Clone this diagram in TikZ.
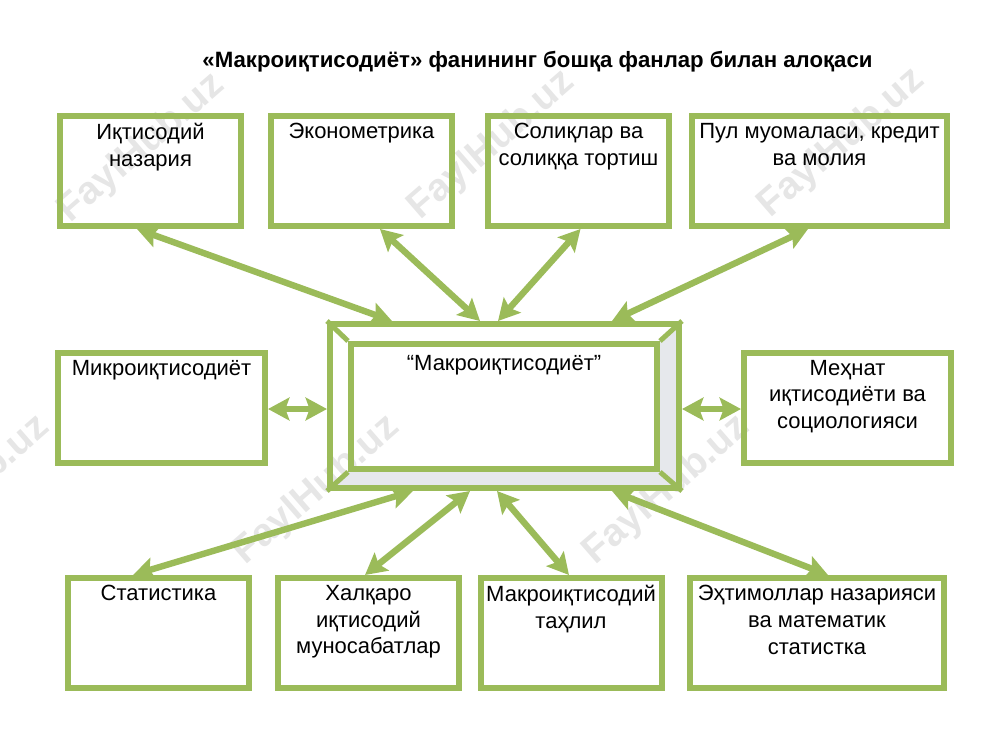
\documentclass[tikz,border=0pt]{standalone}
\usepackage{fontspec}
\setmainfont{Liberation Sans}
\usetikzlibrary{arrows.meta,calc}

\definecolor{boxgreen}{RGB}{155,187,89}
\definecolor{bevelgrey}{RGB}{230,232,236}
\definecolor{markgrey}{RGB}{230,230,230}

\tikzset{
  every picture/.style={line width=0.75pt},
  subjbox/.style={draw=boxgreen,line width=4.5pt,inner sep=0pt,minimum height=82.5pt},
  subjtxt/.style={anchor=north,yshift=-7.5pt,inner sep=0pt,align=center,font=\fontsize{16.5}{20}\selectfont},
  linkarrow/.style={draw=boxgreen,line width=4.8pt,{Stealth[length=16pt,width=17pt,inset=3pt]}-{Stealth[length=16pt,width=17pt,inset=3pt]}},
  bevelline/.style={draw=boxgreen,line width=3.75pt},
  wmark/.style={text=markgrey,rotate=41,inner sep=0pt,font=\fontsize{29}{29}\selectfont\bfseries},
}

\begin{document}
\begin{tikzpicture}[x=0.75pt,y=0.75pt,yscale=-1,xscale=1]
\useasboundingbox (0,0) rectangle (1000,750);
\clip (0,0) rectangle (1000,750);

% Watermark
\node [wmark] (markA) at (142,148) {FaylHub.uz};
\node [wmark] (markB) at (492,145) {FaylHub.uz};
\node [wmark] (markC) at (842,143) {FaylHub.uz};
\node [wmark] (markD) at (-33,490) {FaylHub.uz};
\node [wmark] (markE) at (317,490) {FaylHub.uz};
\node [wmark] (markF) at (667,490) {FaylHub.uz};

%Shape: Bevel faces
\fill [bevelgrey] (679,324) -- (679,488) -- (657,469) -- (657,344) -- cycle;
\fill [bevelgrey] (330,488) -- (679,488) -- (657,469) -- (351,469) -- cycle;

%Shape: Bevel frame
\node [subjbox,minimum width=261.75pt,minimum height=123pt] (mainouter) at (504.5,406) {};
\node [subjbox,minimum width=229.5pt,minimum height=93.75pt] (maininner) at (504,406.5) {};
\draw [bevelline] (mainouter.north west) -- (maininner.north west);
\draw [bevelline] (mainouter.north east) -- (maininner.north east);
\draw [bevelline] (mainouter.south west) -- (maininner.south west);
\draw [bevelline] (mainouter.south east) -- (maininner.south east);

%Shape: Top row
\node [subjbox,minimum width=135.75pt] (nazaria) at (150.5,171) {};
\node [subjbox,minimum width=135.75pt] (ekonom) at (361.5,171) {};
\node [subjbox,minimum width=135.75pt] (soliq) at (578.5,171) {};
\node [subjbox,minimum width=191.25pt] (pul) at (819.5,171) {};

%Shape: Middle row
\node [subjbox,minimum width=155.25pt] (mikro) at (161.5,407.5) {};
\node [subjbox,minimum width=155.25pt] (mehnat) at (847.5,407.5) {};

%Shape: Bottom row
\node [subjbox,minimum width=135.75pt] (statist) at (158.5,633) {};
\node [subjbox,minimum width=135.75pt] (xalqaro) at (368.5,633) {};
\node [subjbox,minimum width=135.75pt] (tahlil) at (571,633) {};
\node [subjbox,minimum width=190.5pt] (extimol) at (817,633) {};

%Straight Lines
\draw [linkarrow] ($(nazaria.south)+(-13.5,0)$) -- ($(mainouter.north)+(-112.5,0)$);
\draw [linkarrow] ($(ekonom.south)+(18.5,0)$) -- ($(mainouter.north)+(-24.5,0)$);
\draw [linkarrow] ($(soliq.south)+(2,0)$) -- ($(mainouter.north)+(-6.5,0)$);
\draw [linkarrow] ($(pul.south)+(-11.5,0)$) -- ($(mainouter.north)+(107.5,0)$);
\draw [linkarrow] ($(mikro.east)+(0,1.5)$) -- ($(mainouter.west)+(0,3)$);
\draw [linkarrow] ($(mainouter.east)+(0,3)$) -- ($(mehnat.west)+(0,1.5)$);
\draw [linkarrow] ($(statist.north)+(-25.5,0)$) -- ($(mainouter.south)+(-91.5,0)$);
\draw [linkarrow] ($(xalqaro.north)+(-3.5,0)$) -- ($(mainouter.south)+(-34.5,0)$);
\draw [linkarrow] ($(tahlil.north)+(-2,0)$) -- ($(mainouter.south)+(-7.5,0)$);
\draw [linkarrow] ($(extimol.north)+(11,0)$) -- ($(mainouter.south)+(107.5,0)$);

% Text Node
\node [anchor=center,inner sep=0pt,font=\fontsize{16.65}{20}\selectfont\bfseries] (title) at (537.5,61.5) {«Макроиқтисодиёт» фанининг бошқа фанлар билан алоқаси};
\node [subjtxt,yshift=-3pt] (maintxt) at (maininner.north) {“Макроиқтисодиёт”};
\node [subjtxt] (nazariatxt) at (nazaria.north) {Иқтисодий\\назария};
\node [subjtxt] (ekonomtxt) at (ekonom.north) {Эконометрика};
\node [subjtxt] (soliqtxt) at (soliq.north) {Солиқлар ва\\солиққа тортиш};
\node [subjtxt] (pultxt) at (pul.north) {Пул муомаласи, кредит\\ва молия};
\node [subjtxt] (mikrotxt) at (mikro.north) {Микроиқтисодиёт};
\node [subjtxt] (mehnattxt) at (mehnat.north) {Меҳнат\\иқтисодиёти ва\\социологияси};
\node [subjtxt] (statisttxt) at (statist.north) {Статистика};
\node [subjtxt] (xalqarotxt) at (xalqaro.north) {Халқаро\\иқтисодий\\муносабатлар};
\node [subjtxt] (tahliltxt) at (tahlil.north) {Макроиқтисодий\\таҳлил};
\node [subjtxt] (extimoltxt) at (extimol.north) {Эҳтимоллар назарияси\\ва математик\\статистка};

\end{tikzpicture}
\end{document}
